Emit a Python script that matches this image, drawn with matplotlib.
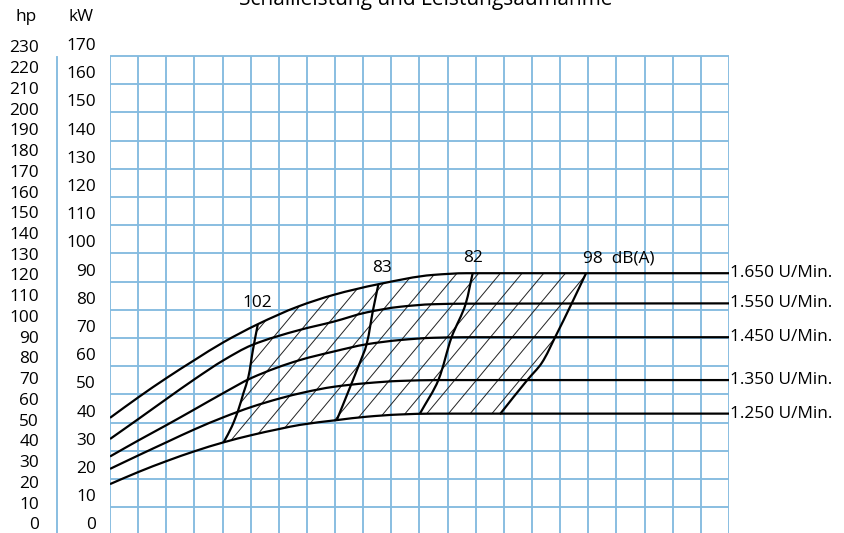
import matplotlib.pyplot as plt
import numpy as np
from matplotlib.lines import Line2D
from matplotlib.patches import Polygon, PathPatch
from matplotlib.path import Path

plt.rcParams["font.family"] = "Open Sans"
plt.rcParams["font.size"] = 12.4

# x = grid columns (no scale printed), y = kW
rpm_labels = ['1.250 U/Min.', '1.350 U/Min.', '1.450 U/Min.', '1.550 U/Min.', '1.650 U/Min.']

u_1250 = [0, 1.01, 2.02, 3.02, 4.03, 5.04, 6.04, 6.75, 8.06, 9.12, 10.31, 11.49, 22]
kw_1250 = [13.9, 18.2, 22.1, 25.6, 28.7, 31.3, 33.5, 34.9, 36.6, 37.8, 38.6, 38.9, 38.9]

u_1350 = [0, 1.01, 2.02, 3.02, 4.03, 5.04, 6.04, 6.93, 7.94, 9.12, 10.31, 11.73, 22]
kw_1350 = [19.3, 24.1, 28.8, 33.4, 37.6, 41.3, 44.3, 46.5, 48.4, 49.7, 50.5, 50.8, 50.8]

u_1450 = [0, 1.01, 2.02, 3.02, 4.03, 5.04, 6.75, 7.94, 9.12, 10.31, 11.49, 12.68, 22]
kw_1450 = [23.7, 29.4, 34.9, 40.5, 46.2, 51.6, 57.9, 60.9, 63.5, 65.0, 65.8, 66.0, 66.0]

u_1550 = [0, 1.01, 2.02, 3.02, 4.03, 5.04, 6.75, 7.94, 9.12, 10.31, 11.49, 12.68, 22]
kw_1550 = [29.9, 37.0, 44.2, 51.2, 57.8, 63.2, 68.6, 71.5, 74.8, 76.8, 77.7, 77.9, 78.0]

u_1650 = [0, 1.01, 2.02, 3.02, 4.03, 5.25, 6.69, 7.94, 9.54, 11.49, 12.68, 22]
kw_1650 = [37.4, 44.7, 51.6, 58.0, 64.2, 70.6, 76.9, 81.0, 84.8, 88.1, 88.7, 88.7]

# iso-noise lines, dB(A)
db_labels = ['102', '83', '82', '98  dB(A)']
u_102 = [5.25, 5.08, 4.92, 4.74, 4.56, 4.33, 4.03]
kw_102 = [70.4, 61.5, 52.0, 46.1, 40.2, 34.3, 28.6]
u_83 = [9.54, 9.35, 9.12, 8.85, 8.59, 8.32, 8.06]
kw_83 = [84.8, 75.7, 63.5, 56.2, 49.7, 43.0, 36.6]
u_82 = [12.89, 12.64, 12.14, 11.67, 11.02]
kw_82 = [88.7, 77.8, 66.0, 50.8, 39.0]
u_98 = [16.92, 16.41, 15.82, 15.34, 14.83, 13.86]
kw_98 = [88.7, 78.0, 66.0, 56.8, 50.8, 38.7]

kw_ticks = list(range(0, 171, 10))
hp_ticks = list(range(0, 231, 10))
KW_PER_HP = 0.7355


def smooth_path(t, v, along_y=False):
    # monotone cubic (pchip-style) bezier through the read points
    t = np.asarray(t, float)
    v = np.asarray(v, float)
    if t[0] > t[-1]:
        t, v = t[::-1], v[::-1]
    h = np.diff(t)
    d = np.diff(v) / h
    m = np.empty_like(t)
    m[0], m[-1] = d[0], d[-1]
    for k in range(1, len(t) - 1):
        if d[k - 1] * d[k] <= 0:
            m[k] = 0
        else:
            w1 = 2 * h[k] + h[k - 1]
            w2 = h[k] + 2 * h[k - 1]
            m[k] = (w1 + w2) / (w1 / d[k - 1] + w2 / d[k])
    verts = [(t[0], v[0])]
    codes = [Path.MOVETO]
    for k in range(len(h)):
        verts += [(t[k] + h[k] / 3, v[k] + m[k] * h[k] / 3),
                  (t[k + 1] - h[k] / 3, v[k + 1] - m[k + 1] * h[k] / 3),
                  (t[k + 1], v[k + 1])]
        codes += [Path.CURVE4] * 3
    verts = np.array(verts)
    if along_y:
        verts = verts[:, ::-1]
    return Path(verts, codes)


blue = '#85BBE0'
W, H = 845, 533
fig = plt.figure(figsize=(W / 100, H / 100), dpi=100)
fig.patch.set_facecolor('white')
ax = fig.add_axes([110 / W, 0, 619 / W, 1])
ymin, ymax = -3.44, 185.6
ax.set_xlim(0, 22)
ax.set_ylim(ymin, ymax)
for s in ax.spines.values():
    s.set_visible(False)
ax.set_xticks([])
ax.set_yticks(kw_ticks)
ax.tick_params(axis='y', length=0, pad=10)

# grid
grid_top = 165.7
ax.hlines(5.7 + 10 * np.arange(17), 0, 22, color=blue, lw=1.35, zorder=1)
ax.vlines(np.arange(23), ymin, grid_top, color=blue, lw=1.35, zorder=1)

# hp scale
sec = ax.secondary_yaxis((39 - 110) / 619, functions=(lambda k: k / KW_PER_HP, lambda h: h * KW_PER_HP))
sec.set_yticks(hp_ticks)
sec.tick_params(length=0, pad=0)
sec.spines['left'].set_visible(False)
fig.add_artist(Line2D([57 / W, 57 / W], [0, 1 - 56.7 / H], color=blue, lw=1.35))

fig.text(26 / W, 1 - 17 / H, 'hp', ha='center', va='center')
fig.text(81 / W, 1 - 17 / H, 'kW', ha='center', va='center')
fig.text(426 / W, 1 - 5 / H, 'Schallleistung und Leistungsaufnahme', ha='center', va='baseline', fontsize=15)

# hatched operating field
u_102a, kw_102a = np.array(u_102), np.array(kw_102)
u_98a, kw_98a = np.array(u_98), np.array(kw_98)
top_u, top_k = np.array(u_1650), np.array(kw_1650)
bot_u, bot_k = np.array(u_1250), np.array(kw_1250)
m_top = (top_u > u_102a[0]) & (top_u < u_98a[0])
m_bot = (bot_u > u_102a[-1]) & (bot_u < u_98a[-1])
px = np.concatenate([u_102a[::-1], top_u[m_top], u_98a, bot_u[m_bot][::-1]])
py = np.concatenate([kw_102a[::-1], top_k[m_top], kw_98a, bot_k[m_bot][::-1]])
field = Polygon(np.column_stack([px, py]), closed=True, fill=False, edgecolor='none')
ax.add_patch(field)
slope = 11.98
for c in 11.26 + 0.771 * np.arange(-12, 10):
    uu = np.array([c - 2, c + 6])
    ln, = ax.plot(uu, slope * (uu - c) + 38.9, color='#222222', lw=0.7, zorder=2)
    ln.set_clip_path(field)

# speed curves
curves = [(u_1250, kw_1250), (u_1350, kw_1350), (u_1450, kw_1450), (u_1550, kw_1550), (u_1650, kw_1650)]
for (uu, kk), lab in zip(curves, rpm_labels):
    ax.add_patch(PathPatch(smooth_path(uu, kk), fill=False, edgecolor='black', lw=1.6,
                           zorder=3, capstyle='butt'))
    ax.text(22.05, kk[-1], lab, ha='left', va='center', clip_on=False)

for uu, kk in [(u_102, kw_102), (u_83, kw_83), (u_82, kw_82), (u_98, kw_98)]:
    ax.add_patch(PathPatch(smooth_path(kk, uu, along_y=True), fill=False, edgecolor='black',
                           lw=1.6, zorder=3))

ax.text(5.24, 78.0, db_labels[0], ha='center', va='center')
ax.text(9.66, 90.5, db_labels[1], ha='center', va='center')
ax.text(12.9, 94.0, db_labels[2], ha='center', va='center')
ax.text(16.82, 94.0, db_labels[3], ha='left', va='center')

fig.savefig('out.png', dpi=100, facecolor='white')
